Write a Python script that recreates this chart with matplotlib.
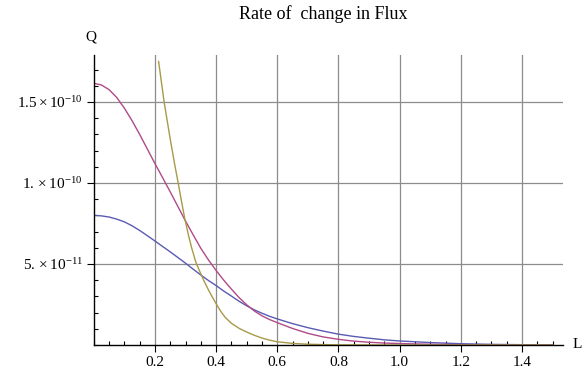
import numpy as np
import matplotlib.pyplot as plt
from matplotlib.ticker import MultipleLocator

# ---------- data (Q in units of 1e-11) ----------
L_grid = [0, .025, .05, .075, .1, .125, .15, .175, .2, .225, .25, .275, .3, .325,
          .35, .375, .4, .425, .45, .475, .5, .525, .55, .575, .6, .65, .7, .75,
          .8, .85, .9, .95, 1.0, 1.1, 1.2, 1.3, 1.4, 1.5]
q_blue = [8.0, 7.97, 7.9, 7.77, 7.6, 7.36, 7.07, 6.75, 6.42, 6.08, 5.75, 5.4, 5.05,
          4.68, 4.32, 3.98, 3.67, 3.33, 3.02, 2.7, 2.42, 2.17, 1.96, 1.77, 1.61,
          1.32, 1.07, 0.86, 0.67, 0.53, 0.42, 0.32, 0.25, 0.15, 0.08, 0.04, 0.02, 0.01]
q_magenta = [16.15, 16.05, 15.76, 15.28, 14.62, 13.85, 13.0, 12.1, 11.2, 10.33,
             9.45, 8.55, 7.65, 6.8, 5.97, 5.25, 4.6, 4.0, 3.45, 2.93, 2.48, 2.1,
             1.8, 1.57, 1.38, 1.02, 0.72, 0.5, 0.35, 0.24, 0.17, 0.12, 0.09, 0.045,
             0.02, 0.01, 0.005, 0.002]
L_olive = [0.212, 0.23, 0.25, 0.265, 0.276, 0.287, 0.298, 0.31, 0.32, 0.333, 0.345,
           0.36, 0.375, 0.39, 0.4, 0.415, 0.43, 0.45, 0.475, 0.5, 0.525, 0.55,
           0.575, 0.6, 0.65, 0.7, 0.75, 0.8, 0.9, 1.0, 1.2, 1.5]
q_olive = [17.5, 15.0, 12.7, 11.1, 10.0, 8.85, 7.75, 6.75, 6.0, 5.15, 4.6,
           3.97, 3.4, 2.88, 2.55, 2.08, 1.7, 1.34, 1.03, 0.8, 0.6, 0.43,
           0.3, 0.2, 0.1, 0.05, 0.025, 0.01, 0.003, 0.0, 0.0, 0.0]

x_ticks = [0.2, 0.4, 0.6, 0.8, 1.0, 1.2, 1.4]
x_labels = ['0.2', '0.4', '0.6', '0.8', '1.0', '1.2', '1.4']
y_ticks = [5e-11, 1e-10, 1.5e-10]
y_labels = [r'$5.\times10^{-11}$', r'$1.\times10^{-10}$', r'$1.5\times10^{-10}$']

# ---------- style ----------
plt.rcParams['font.family'] = ['Liberation Serif', 'DejaVu Serif']
plt.rcParams['mathtext.fontset'] = 'custom'
plt.rcParams['mathtext.rm'] = 'Liberation Serif'
plt.rcParams['mathtext.it'] = 'Liberation Serif:italic'
plt.rcParams['mathtext.default'] = 'rm'

fig = plt.figure(figsize=(5.85, 3.69), dpi=100)
ax = fig.add_axes([0.1603, 0.065, 0.802, 0.786])

ax.plot(L_grid, np.array(q_blue) * 1e-11, color='#5a5ab4', lw=1.0)
ax.plot(L_grid, np.array(q_magenta) * 1e-11, color='#b04a88', lw=1.0)
ax.plot(L_olive, np.array(q_olive) * 1e-11, color='#a89a48', lw=1.0)

ax.set_xlim(0, 1.534)
ax.set_ylim(0, 1.79e-10)

ax.set_xticks(x_ticks)
ax.set_xticklabels(x_labels)
ax.set_yticks(y_ticks)
ax.set_yticklabels(y_labels)
ax.xaxis.set_minor_locator(MultipleLocator(0.05))
ax.yaxis.set_minor_locator(MultipleLocator(1e-11))

ax.tick_params(which='major', direction='out', length=5, width=0.8,
               labelsize=11, pad=3)
ax.tick_params(which='minor', direction='in', length=3, width=0.8)

ax.grid(True, which='major', color='#8c8c8c', lw=0.9)
ax.set_axisbelow(True)

for s in ['top', 'right']:
    ax.spines[s].set_visible(False)
for s in ['left', 'bottom']:
    ax.spines[s].set_color('black')
    ax.spines[s].set_linewidth(1.0)

fig.text(323 / 585, 1 - 14 / 369, 'Rate of  change in Flux', ha='center',
         va='center', fontsize=13)
fig.text(90.5 / 585, 1 - 37 / 369, 'Q', ha='center', va='center', fontsize=11)
fig.text(577.5 / 585, 1 - 345 / 369, 'L', ha='center', va='center', fontsize=11)

fig.savefig('out.png', dpi=100)
